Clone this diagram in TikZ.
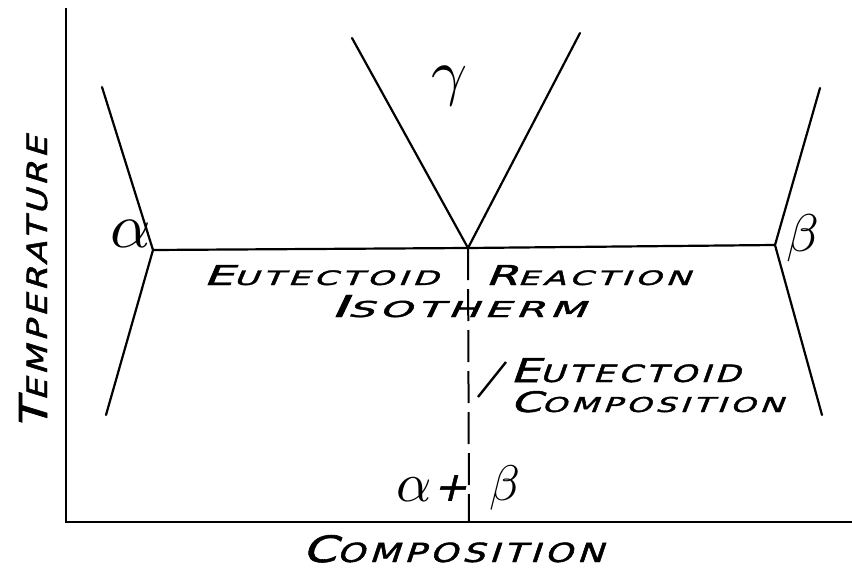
\documentclass[tikz,border=0pt]{standalone}
\usepackage{fontspec}
\newfontfamily\hand[FakeSlant=0.25,LetterSpace=12,FakeBold=1.5]{DejaVu Sans}
\newcommand\hl[2]{{\fontsize{20}{20}\selectfont #1}{\fontsize{14.5}{14.5}\selectfont #2}}
\newcommand\fitt[3]{\resizebox{#1pt}{#2pt}{#3}}
\begin{document}
\begin{tikzpicture}[x=1pt,y=-1pt,
  bline/.style={line width=2.2pt, line cap=round},
  lbl/.style={font=\hand, inner sep=0pt},
  greek/.style={inner sep=0pt}]
\useasboundingbox (0,0) rectangle (852,570);
% axes
\coordinate (ytop) at (66,8);
\coordinate (org) at (66,522);
\coordinate (xend) at (852,522);
\draw[bline, line cap=butt] (ytop) -- (org) -- (xend);
% junctions
\coordinate (A) at (153,250);
\coordinate (E) at (468,248);
\coordinate (B) at (775,245);
\coordinate (Au) at (102,87);
\coordinate (Al) at (106,415);
\coordinate (Gl) at (352,38);
\coordinate (Gr) at (580,33);
\coordinate (Bu) at (820,88);
\coordinate (Bl) at (822,415);
\draw[bline] (Au) -- (A) -- (Al);
\draw[bline] (Gl) -- (E) -- (Gr);
\draw[bline] (Bu) -- (B) -- (Bl);
\draw[bline] (A) -- (E) -- (B);
% eutectoid composition dashed line
\coordinate (Ebot) at (469,522);
\draw[line width=2pt, dash pattern=on 32pt off 9pt] (E) -- (Ebot);
% pointer
\coordinate (p1) at (478,397);
\coordinate (p2) at (506,362);
\draw[line width=2.4pt] (p1) -- (p2);
% labels
\node[greek] (alpha) at (131,234) {\scalebox{6.3}{$\alpha$}};
\node[greek] (gamma) at (450,86) {\scalebox{6.3}{$\gamma$}};
\node[greek] (beta) at (803,238) {\scalebox{5.3}{$\beta$}};
\node[greek] (a2) at (414,490) {\scalebox{5.5}{$\alpha$}};
\node[greek, font=\hand\fontsize{40}{40}\selectfont] (plus) at (450,488) {+};
\node[greek] (b2) at (505,488) {\scalebox{5}{$\beta$}};
\node[lbl, anchor=base west] (eut) at (203,285) {\fitt{235}{20}{\hl{E}{UTECTOID}}};
\node[lbl, anchor=base west] (rea) at (485,285) {\fitt{205}{20}{\hl{R}{EACTION}}};
\node[lbl, anchor=base west] (iso) at (330,317) {\fitt{255}{22}{\hl{I}{SOTHERM}}};
\node[lbl, anchor=base west] (ec1) at (510,382) {\fitt{230}{24}{\hl{E}{UTECTOID}}};
\node[lbl, anchor=base west] (ec2) at (510,412) {\fitt{273}{21}{\hl{C}{OMPOSITION}}};
\node[lbl, anchor=base west] (comp) at (302,562) {\fitt{301}{27}{\hl{C}{OMPOSITION}}};
\node[lbl, anchor=base west, rotate=90] (temp) at (47,430) {\fitt{293}{28}{\hl{T}{EMPERATURE}}};
\end{tikzpicture}
\end{document}
